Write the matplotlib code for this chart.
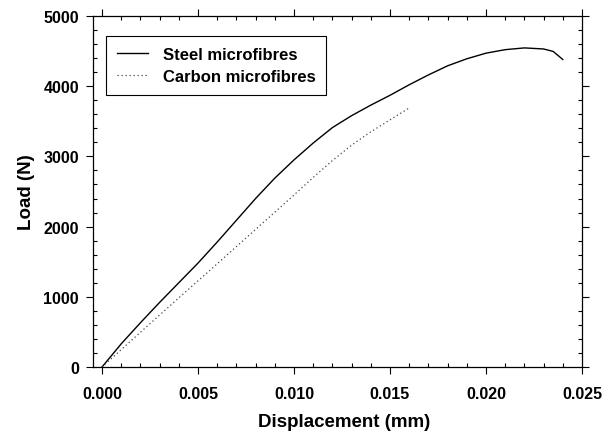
import matplotlib
matplotlib.use('Agg')
import matplotlib.pyplot as plt
from matplotlib.ticker import MultipleLocator

# load-displacement readings
steel_disp = [0.0, 0.001, 0.002, 0.003, 0.004, 0.005, 0.006, 0.007, 0.008, 0.009,
              0.010, 0.011, 0.012, 0.013, 0.014, 0.015, 0.016, 0.017, 0.018, 0.019,
              0.020, 0.021, 0.022, 0.023, 0.0235, 0.024]
steel_load = [0, 330, 630, 920, 1200, 1480, 1780, 2090, 2400, 2690,
              2950, 3190, 3410, 3580, 3730, 3870, 4020, 4160, 4290, 4390,
              4470, 4520, 4545, 4530, 4495, 4380]

carbon_disp = [0.0, 0.002, 0.004, 0.006, 0.008, 0.010, 0.011, 0.012, 0.013, 0.014, 0.015, 0.016]
carbon_load = [0, 495, 985, 1470, 1960, 2450, 2700, 2940, 3160, 3350, 3520, 3690]

plt.rcParams['font.family'] = ['Liberation Sans', 'DejaVu Sans']
plt.rcParams['font.weight'] = 'bold'

fig = plt.figure(figsize=(6.15, 4.35), dpi=100)
ax = fig.add_axes([0.1512, 0.154, 0.7951, 0.807])

ax.plot(steel_disp, steel_load, color='black', linewidth=1.0, label='Steel microfibres')
ax.plot(carbon_disp, carbon_load, color='#444444', linewidth=0.9, linestyle=(0, (1, 2.2)),
        label='Carbon microfibres')

ax.set_xlim(-0.00047, 0.025)
ax.set_ylim(0, 5000)
ax.xaxis.set_major_locator(MultipleLocator(0.005))
ax.xaxis.set_minor_locator(MultipleLocator(0.001))
ax.yaxis.set_major_locator(MultipleLocator(1000))
ax.yaxis.set_minor_locator(MultipleLocator(200))
ax.xaxis.set_major_formatter(plt.FuncFormatter(lambda v, p: '%.3f' % v))

ax.tick_params(which='major', direction='out', length=5, width=0.8,
               top=True, right=True, labelsize=11.5, pad=5)
ax.tick_params(which='minor', direction='in', length=3, width=0.8, top=True, right=True)
ax.tick_params(axis='x', which='major', pad=9)
for s in ax.spines.values():
    s.set_linewidth(0.9)

ax.set_xlabel('Displacement (mm)', fontsize=13.5, fontweight='bold', labelpad=9)
ax.xaxis.set_label_coords(0.513, -0.13)
ax.set_ylabel('Load (N)', fontsize=13.5, fontweight='bold', labelpad=6)

leg = ax.legend(loc='upper left', bbox_to_anchor=(0.0266, 0.943), borderaxespad=0,
                fontsize=12, frameon=True, fancybox=False, framealpha=1,
                edgecolor='black', handlelength=1.9, handletextpad=0.85,
                labelspacing=0.45, borderpad=0.65)
leg.get_frame().set_linewidth(0.8)

fig.savefig('out.png', dpi=100)
